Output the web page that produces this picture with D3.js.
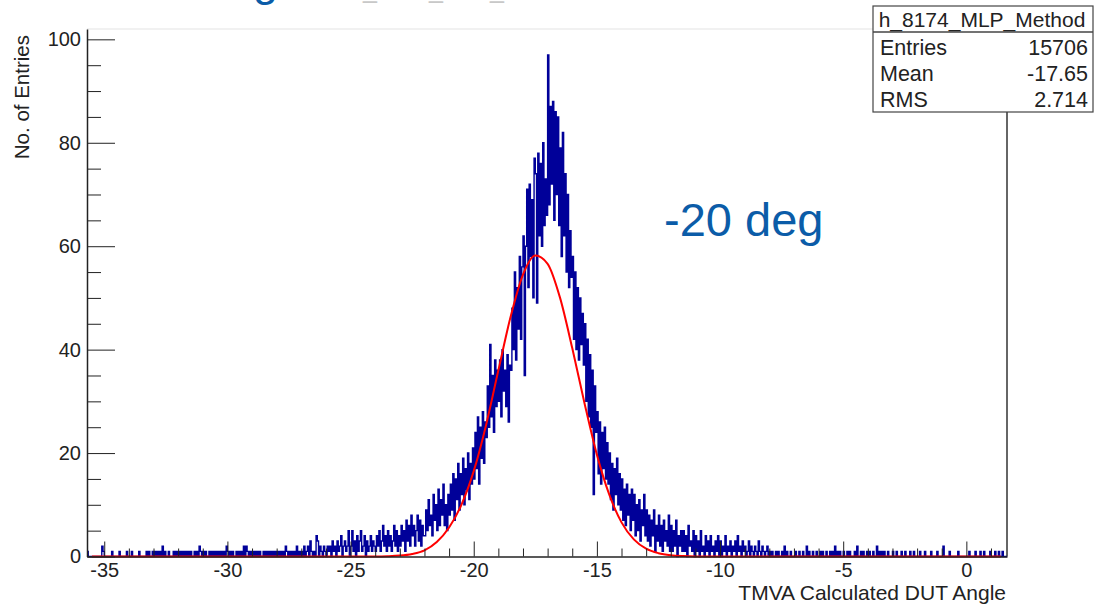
<!DOCTYPE html>
<html>
<head>
<meta charset="utf-8">
<script src="https://cdn.jsdelivr.net/npm/d3@7"></script>
<style>
  body { margin: 0; background: #fff; }
  svg text { font-family: "Liberation Sans", Arial, Helvetica, sans-serif; }
</style>
</head>
<body>
<div id="chart"></div>
<script>
// histogram bins, 0.05 wide, first bin starts at -35.7
const binStart = -35.7;
const binWidth = 0.05;

// -35.7 .. -25
const countsFarLeft = [
  1,0,0,0,0,0,0,0,0,0,0,0,2,1,
  0,0,0,0,0,0,1,0,0,0,0,0,1,0,0,0,0,0,1,0,
  0,0,1,0,0,0,0,0,1,0,0,0,0,0,1,0,1,0,0,1,
  0,1,0,1,0,1,0,2,0,1,0,0,1,0,0,0,1,0,1,0,
  1,0,1,0,1,0,1,0,1,0,1,0,0,1,0,1,0,2,1,0,
  1,0,1,0,0,1,0,1,0,1,0,1,0,1,0,1,0,1,0,2,
  1,0,1,0,1,0,0,1,0,1,0,1,0,2,0,2,1,0,1,0,
  1,0,1,0,1,0,1,0,0,1,0,1,0,1,0,1,0,1,0,1,
  0,1,0,1,0,1,0,2,1,0,1,0,1,0,1,0,2,0,1,0,
  1,0,2,0,1,2,0,3,1,0,1,0,4,3,0,2,1,0,2,1,
  0,2,1,2,0,3,1,2,0,3,1,2,4,0,2,3,1,2,5,0
];
// -25 .. -20
const countsLeft = [
  2,5,1,3,0,4,1,3,5,1,2,4,0,3,1,2,4,1,3,2,
  1,4,2,5,1,3,6,2,4,1,5,2,4,1,3,6,2,5,1,4,
  2,6,3,5,1,7,3,6,2,8,4,6,2,5,8,3,7,2,6,4,
  4,9,5,11,6,8,4,12,7,10,5,13,6,11,8,14,6,10,5,12,
  8,14,9,16,7,15,11,18,9,16,12,19,10,17,13,20,11,18,14,21
];
// -20 .. -15
const countsPeak = [
  15,24,17,27,14,25,19,28,18,26,
  23,33,25,41,27,35,24,38,29,36,
  30,38,27,40,32,36,29,39,26,37,
  36,48,40,55,38,52,44,58,42,56,
  62,35,60,71,52,72,58,69,50,77,
  74,49,78,62,76,60,80,64,73,66,
  97,68,87,72,88,65,86,70,85,64,
  79,58,82,62,74,55,70,52,63,54,
  58,42,55,40,52,38,50,41,47,37,
  45,30,42,27,39,25,36,12,33,24
];
// -15 .. -10
const countsRight = [
  28,16,26,14,24,17,25,15,22,14,
  20,11,18,9,17,12,19,10,16,9,
  15,7,13,6,14,8,12,5,13,7,
  12,4,10,5,11,3,9,6,12,4,
  9,3,8,2,7,4,9,1,6,3,
  8,2,6,1,7,3,5,2,8,1,
  6,1,5,2,7,0,4,2,5,1,
  5,1,4,0,6,2,3,1,5,0,
  4,1,3,0,5,1,2,0,4,1,
  3,0,4,1,2,0,3,1,4,0
];
// -10 .. 1.65
const countsFarRight = [
  3,0,2,1,4,0,2,1,3,0,2,1,3,0,4,1,2,0,3,1,
  2,0,1,3,0,2,1,0,2,1,0,3,1,0,2,1,0,1,2,0,
  1,0,1,0,0,1,0,1,0,0,1,0,2,0,1,0,0,1,0,0,
  0,1,0,0,1,0,0,1,0,0,2,0,1,0,0,1,0,0,1,0,
  0,1,0,1,0,0,1,0,0,1,0,1,0,2,0,1,0,1,0,0,
  1,0,0,1,0,1,0,0,0,1,0,2,0,0,1,0,1,0,0,1,
  0,1,0,0,1,0,0,2,0,1,0,1,0,1,0,0,1,0,0,0,
  1,0,0,1,0,0,0,1,0,0,1,0,0,0,1,0,0,1,0,0,
  0,0,1,0,0,0,1,0,0,0,0,1,0,0,0,0,1,0,0,0,
  0,2,0,0,0,0,1,0,0,0,0,0,0,1,0,0,0,0,0,0,
  0,0,1,0,0,0,0,1,0,0,0,1,0,0,1,0,0,0,0,1,0,0,0,1,0,0,1,0,0,1,0,0,0
];

// gaussian fit
const fitAngles = [-35.5, -24, -23.5, -23, -22.5, -22, -21.5, -21, -20.5, -20, -19.5, -19, -18.5, -18,
  -17.5, -17, -16.5, -16, -15.5, -15, -14.5, -14, -13.5, -13, -12.5, -12, -11.5, -11, 1.4];
const fitValues = [0, 0.02, 0.06, 0.18, 0.5, 1.2, 2.8, 5.6, 10, 16.5, 25.4, 36, 46.4, 54.5,
  58.2, 56.6, 50.1, 40.3, 29.6, 19.7, 12, 6.6, 3.3, 1.5, 0.64, 0.24, 0.08, 0.02, 0];

const xMajor = [-35, -30, -25, -20, -15, -10, -5, 0];
const yMajor = [0, 20, 40, 60, 80, 100];
const xTitle = "TMVA Calculated DUT Angle";
const yTitle = "No. of Entries";
const statsName = "h_8174_MLP_Method";
const statsLabels = ["Entries", "Mean", "RMS"];
const statsValues = ["15706", "-17.65", "2.714"];
const noteText = "-20 deg";

const counts = [].concat(countsFarLeft, countsLeft, countsPeak, countsRight, countsFarRight);
const xMax = binStart + counts.length * binWidth;

const W = 1094, H = 604;
const frame = {left: 87, right: 1007, top: 29, bottom: 556.5};

const svg = d3.select("#chart")
  .append("svg")
    .attr("width", W)
    .attr("height", H);

const x = d3.scaleLinear().domain([binStart, xMax]).range([frame.left, frame.right]);
const y = d3.scaleLinear().domain([0, 102]).range([frame.bottom, frame.top]);

// slide text above the chart, cut off by the top edge
svg.append("text")
  .attr("x", 253).attr("y", -4)
  .attr("font-size", 45)
  .attr("fill", "#0b5ca8")
  .text("g");
[363, 429, 490].forEach(px => {
  svg.append("text")
    .attr("x", px).attr("y", -2.5)
    .attr("font-size", 25)
    .attr("fill", "#c8c8c8")
    .text("_");
});

// frame
svg.append("line")
  .attr("x1", frame.left).attr("x2", frame.right)
  .attr("y1", frame.top).attr("y2", frame.top)
  .attr("stroke", "#ececec").attr("stroke-width", 1.5);
svg.append("line")
  .attr("x1", frame.right).attr("x2", frame.right)
  .attr("y1", frame.top).attr("y2", frame.bottom)
  .attr("stroke", "#333").attr("stroke-width", 1.5);

// histogram outline
const histPoints = counts.map((c, i) => [binStart + i * binWidth, c]);
histPoints.push([xMax, counts[counts.length - 1]]);

svg.append("path")
  .datum(histPoints)
  .attr("fill", "none")
  .attr("stroke", "#000099")
  .attr("stroke-width", 1.4)
  .attr("d", d3.line()
    .x(d => x(d[0]))
    .y(d => y(d[1]))
    .curve(d3.curveStepAfter));

// fit
svg.append("path")
  .datum(fitAngles.map((a, i) => [a, fitValues[i]]))
  .attr("fill", "none")
  .attr("stroke", "#ff0000")
  .attr("stroke-width", 2)
  .attr("d", d3.line()
    .x(d => x(d[0]))
    .y(d => y(d[1]))
    .curve(d3.curveMonotoneX));

// x axis, ticks pointing inwards
const xMinor = d3.range(-35, 2, 1).filter(v => !xMajor.includes(v));
svg.append("g")
  .attr("transform", `translate(0,${frame.bottom})`)
  .attr("color", "#222")
  .call(d3.axisBottom(x).tickValues(xMinor).tickSize(-8).tickSizeOuter(0).tickFormat(""))
  .call(g => g.select(".domain").remove());
svg.append("g")
  .attr("transform", `translate(0,${frame.bottom})`)
  .attr("color", "#222")
  .call(d3.axisBottom(x).tickValues(xMajor).tickSize(-15).tickSizeOuter(0).tickPadding(6)
    .tickFormat(d => String(d)))
  .attr("font-size", 20)
  .attr("font-family", null)
  .call(g => g.select(".domain").attr("stroke-width", 1.5))
  .call(g => g.selectAll("text").attr("fill", "#222"));

// y axis
const yMinor = d3.range(5, 101, 5).filter(v => !yMajor.includes(v));
svg.append("g")
  .attr("transform", `translate(${frame.left},0)`)
  .attr("color", "#222")
  .call(d3.axisLeft(y).tickValues(yMinor).tickSize(-14).tickSizeOuter(0).tickFormat(""))
  .call(g => g.select(".domain").remove());
svg.append("g")
  .attr("transform", `translate(${frame.left},0)`)
  .attr("color", "#222")
  .call(d3.axisLeft(y).tickValues(yMajor).tickSize(-28).tickSizeOuter(0).tickPadding(6)
    .tickFormat(d => String(d)))
  .attr("font-size", 20)
  .attr("font-family", null)
  .call(g => g.select(".domain").attr("stroke-width", 1.5))
  .call(g => g.selectAll("text").attr("fill", "#222"));

// axis titles
svg.append("text")
  .attr("x", frame.right - 1).attr("y", 600)
  .attr("text-anchor", "end")
  .attr("font-size", 21)
  .attr("fill", "#222")
  .text(xTitle);
svg.append("text")
  .attr("transform", `translate(29,${frame.top + 6}) rotate(-90)`)
  .attr("text-anchor", "end")
  .attr("font-size", 20.5)
  .attr("fill", "#222")
  .text(yTitle);

// stats box
const box = {x: 873, y: 6, w: 220, h: 106, head: 26};
const stats = svg.append("g");
stats.append("rect")
  .attr("x", box.x).attr("y", box.y)
  .attr("width", box.w).attr("height", box.h)
  .attr("fill", "#fff").attr("stroke", "#444").attr("stroke-width", 1.2);
stats.append("line")
  .attr("x1", box.x).attr("x2", box.x + box.w)
  .attr("y1", box.y + box.head).attr("y2", box.y + box.head)
  .attr("stroke", "#444").attr("stroke-width", 1.5);
stats.append("text")
  .attr("x", box.x + box.w / 2 - 1).attr("y", box.y + 21)
  .attr("text-anchor", "middle")
  .attr("font-size", 21)
  .attr("fill", "#222")
  .text(statsName);
statsLabels.forEach((lab, i) => {
  stats.append("text")
    .attr("x", box.x + 7).attr("y", 55 + i * 26)
    .attr("font-size", 21.5)
    .attr("fill", "#222")
    .text(lab);
  stats.append("text")
    .attr("x", box.x + box.w - 5).attr("y", 55 + i * 26)
    .attr("text-anchor", "end")
    .attr("font-size", 21.5)
    .attr("fill", "#222")
    .text(statsValues[i]);
});

// slide annotation
svg.append("text")
  .attr("x", 664).attr("y", 236)
  .attr("font-size", 47)
  .attr("fill", "#0b5ca8")
  .text(noteText);
</script>
</body>
</html>
